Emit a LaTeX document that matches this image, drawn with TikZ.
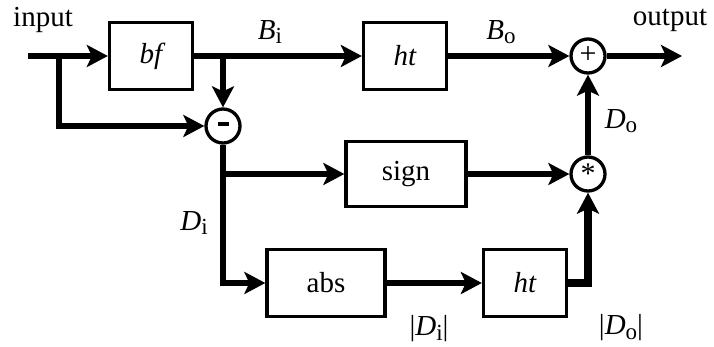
\documentclass[tikz,border=0pt]{standalone}
\usepackage{fontspec}
\setmainfont{Liberation Serif}
\usetikzlibrary{positioning, arrows.meta}

\newcommand{\lowsub}[1]{\raisebox{-0.35ex}{\fontsize{23}{23}\selectfont #1}}

\begin{document}
\begin{tikzpicture}[
    x=1pt, y=-1pt,
    >={Stealth[length=21pt, width=22pt, inset=5pt]},
    box/.style={draw, line width=3.3pt, minimum width=83pt, minimum height=67pt, inner sep=0pt, font=\fontsize{29}{32}\selectfont},
    op/.style={draw, circle, line width=3.3pt, minimum size=34pt, inner sep=0pt, font=\fontsize{30}{32}\selectfont},
    txt/.style={font=\fontsize{29}{32}\selectfont, inner sep=0pt},
    flow/.style={line width=5.5pt}
]
\useasboundingbox (0,0) rectangle (714,346);

% ================= Nodes =================

% Top row
\node[txt] (input) at (43,20) {input};
\coordinate (in) at (28,56);
\node[box] (bf) at (151,56) {\itshape bf};
\node[box] (ht1) at (405,56) {\itshape ht};
\node[op] (plus) at (588,56) {\raisebox{0.2ex}{+}};
\node[txt] (output) at (670,20) {output};
\coordinate (out) at (682,56);

% Difference and sign branch
\node[op] (minus) at (223,126) {\rule[0.3ex]{11pt}{4pt}};
\node[box, minimum width=120pt, minimum height=65pt] (sign) at (406,174) {sign};
\node[op] (star) at (588,174) {\raisebox{-0.4ex}{*}};

% Magnitude branch
\node[box, minimum width=118pt] (abs) at (326,283) {abs};
\node[box] (ht2) at (525,283) {\itshape ht};

% Branch points
\coordinate (b1) at (59,56);
\coordinate (b2) at (223,56);
\coordinate (b3) at (223,174);

% ================= Labels =================

\node[txt] (lbl_bi) at (270,32) {\textit{B}\lowsub{i}};
\node[txt] (lbl_bo) at (501,32) {\textit{B}\lowsub{o}};
\node[txt] (lbl_do) at (621,121) {\textit{D}\lowsub{o}};
\node[txt] (lbl_di) at (194,223) {\textit{D}\lowsub{i}};
\node[txt] (lbl_adi) at (429,329) {|\textit{D}\lowsub{i}|};
\node[txt] (lbl_ado) at (621,328) {|\textit{D}\lowsub{o}|};

% ================= Edges =================

% Main path
\draw[flow, ->] (in) -- (bf);
\draw[flow, ->] (bf) -- (ht1);
\draw[flow, ->] (ht1) -- (plus);
\draw[flow, ->] (plus) -- (out);

% Difference of input and smoothed signal
\draw[flow, ->] (b2) -- (minus);
\draw[flow, ->] (b1) |- (minus);

% Sign and magnitude branches
\draw[flow, ->] (minus) |- (abs);
\draw[flow, ->] (b3) -- (sign);
\draw[flow, ->] (sign) -- (star);
\draw[flow, ->] (abs) -- (ht2);
\draw[flow, ->, line width=7.5pt] (ht2) -| (star);

% Recombination
\draw[flow, ->] (star) -- (plus);

\end{tikzpicture}
\end{document}
